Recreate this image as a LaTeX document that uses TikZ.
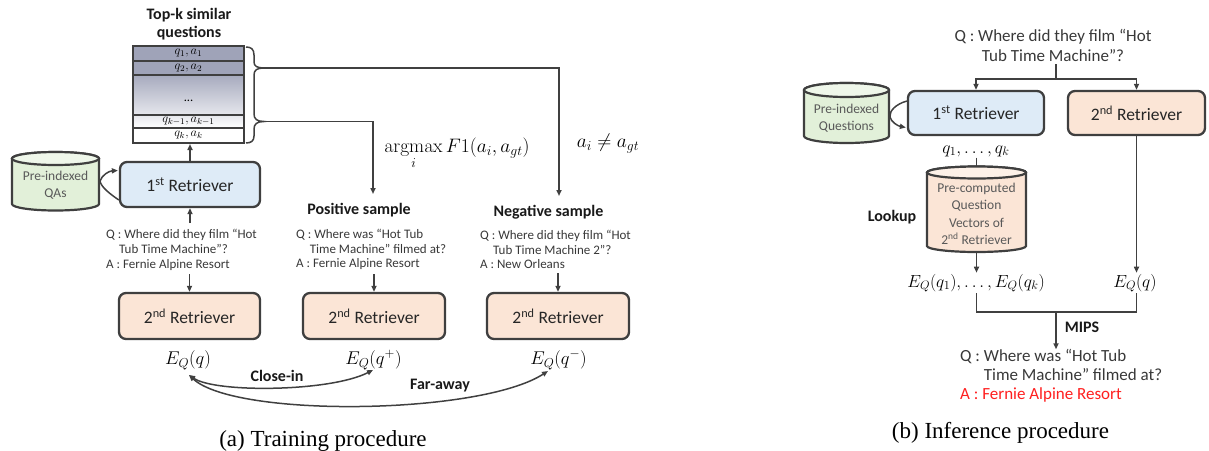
\RequirePackage{fix-cm}
\documentclass[tikz,border=0pt]{standalone}
\usepackage[no-math]{fontspec}
\setmainfont{Carlito}
\newfontfamily\capfont{Liberation Serif}
\usetikzlibrary{arrows.meta,calc}
\definecolor{bordc}{HTML}{3F3F3F}
\definecolor{linec}{HTML}{404040}
\definecolor{bluef}{HTML}{DEEBF7}
\definecolor{peachf}{HTML}{FBE5D6}
\definecolor{greenf}{HTML}{E2F0D9}
\definecolor{cylt}{HTML}{595959}
\definecolor{qc}{HTML}{383838}
\definecolor{rowc}{HTML}{9FA3B8}
\definecolor{rowlt}{HTML}{E6E7ED}
\definecolor{ansred}{HTML}{FF1F1F}
\newcommand\drawcyl[6]{%
  \draw[cylst, fill=#6] ({#1-#4},#2) -- ({#1-#4},#3)
    arc[start angle=180,end angle=360,x radius=#4pt,y radius=#5pt]
    -- ({#1+#4},#2)
    arc[start angle=0,end angle=180,x radius=#4pt,y radius=#5pt] -- cycle;
  \draw[cylst, fill=#6!55!white] (#1,#2) ellipse[x radius=#4pt, y radius=#5pt];}
\begin{document}
\begin{tikzpicture}[x=1pt,y=-1pt,
  retr/.style={draw=bordc, line width=2.3pt, rounded corners=7pt, minimum width=139pt,
    minimum height=44pt, font=\fontsize{17.5}{20}\selectfont, text=black!85},
  cylst/.style={draw=bordc, line width=2.2pt},
  conn/.style={draw=linec, line width=1.5pt},
  arr/.style={conn, -{Triangle[length=6pt,width=5pt]}},
  darr/.style={conn, {Triangle[length=6pt,width=5pt]}-{Triangle[length=6pt,width=5pt]}},
  qtext/.style={font=\fontsize{13}{14.7}\selectfont, text=qc, align=left, inner sep=0pt, anchor=west},
  bold/.style={font=\bfseries\fontsize{16}{18}\selectfont, inner sep=1pt, text=black!90},
  mth/.style={font=\fontsize{18.5}{21}\selectfont, inner sep=1pt},
  mthb/.style={font=\fontsize{17.5}{20}\selectfont, inner sep=1pt},
  cyltext/.style={font=\fontsize{13.5}{17.3}\selectfont, text=cylt, align=center, inner sep=0pt},
  rowlab/.style={font=\fontsize{12.5}{14}\selectfont, inner sep=0pt}]
\useasboundingbox (0,0) rectangle (1209,450);

%% ---------------- (a) Training procedure ----------------
\node[bold, align=center] (title) at (189,24) {Top-k similar\\questions};

% stack of top-k questions
\fill[rowc] (133,46) rectangle (244,75);
\shade[top color=rowc!92!white, bottom color=rowlt] (133,75) rectangle (244,115);
\shade[top color=rowlt, bottom color=white] (133,115) rectangle (244,128);
\fill[white] (133,128) rectangle (244,143);
\foreach \yy in {61,75,115,128} \draw[bordc, line width=1.8pt] (133,\yy) -- (244,\yy);
\node[draw=bordc, line width=2pt, minimum width=111pt, minimum height=97pt, inner sep=0pt] (stack) at (188.5,94.5) {};
\node[rowlab] (r1) at (188.5,53.5) {$q_1,a_1$};
\node[rowlab] (r2) at (188.5,68) {$q_2,a_2$};
\node[rowlab] (rdots) at (188.5,101) {...};
\node[rowlab] (rk1) at (188.5,121.5) {$q_{k-1},a_{k-1}$};
\node[rowlab] (rk) at (188.5,135.5) {$q_k,a_k$};

% braces
\draw[conn] (246,47) .. controls (251,47) and (254,49) .. (254,55) -- (254,62)
  .. controls (254,66) and (257,68) .. (264,68) .. controls (257,68) and (254,70) .. (254,75)
  -- (254,114) .. controls (254,119) and (257,121.5) .. (264,121.5)
  .. controls (257,121.5) and (254,124) .. (254,129) -- (254,136)
  .. controls (254,141) and (251,143) .. (246,143);
\coordinate (b1) at (264,68);
\coordinate (b2) at (264,121.5);
\coordinate (negtop) at (559,196);
\coordinate (postop) at (373,194);
\draw[arr] (b1) -| (negtop);
\draw[arr] (b2) -| (postop);
\node[font=\fontsize{19.5}{22}\selectfont, inner sep=0pt] (argm) at (457,153)
  {$\displaystyle\mathop{\mathrm{argmax}}_{i}F1(a_i,a_{gt})$};
\node[font=\fontsize{19.5}{22}\selectfont, inner sep=1pt] (neq) at (608,144) {$a_i \neq a_{gt}$};

% pre-indexed QAs
\drawcyl{55.5}{158.5}{204}{43.5}{6.5}{greenf}
\node[cyltext] (cylA) at (55.5,185) {Pre-indexed\\QAs};

% 1st retriever
\node[retr, fill=bluef, minimum width=140pt, minimum height=45pt] (r1a) at (190,184.5) {1\textsuperscript{st} Retriever};
\draw[arr] ([yshift=-15.5pt]r1a.west) .. controls (110,194) and (101,187) .. (100,181)
  .. controls (102,175) and (109,171) .. ([yshift=14pt,xshift=-1pt]r1a.west);
\draw[arr] (r1a.north) -- (stack.south -| r1a.north);

% sample texts
\node[qtext] (qa1) at (106,249.8) {Q : Where did they film “Hot\\\hspace*{1em}Tub Time Machine”?\\A : Fernie Alpine Resort};
\node[bold] (pos) at (359,210) {Positive sample};
\node[qtext] (qpos) at (296,249.5) {Q : Where was “Hot Tub\\\hspace*{1.05em}Time Machine” filmed at?\\A : Fernie Alpine Resort};
\node[bold] (neg) at (548.5,212) {Negative sample};
\node[qtext] (qneg) at (480,249.5) {Q : Where did they film “Hot\\\hspace*{1em}Tub Time Machine 2”?\\A : New Orleans};

\draw[arr] (r1a.south |- qa1.north) +(0,-6) -- (r1a.south);

% 2nd retrievers
\node[retr, fill=peachf, minimum width=141pt, minimum height=46pt] (r2a) at (189.5,316) {2\textsuperscript{nd} Retriever};
\node[retr, fill=peachf, minimum width=142pt, minimum height=46pt] (r2p) at (374,316) {2\textsuperscript{nd} Retriever};
\node[retr, fill=peachf, minimum width=142pt, minimum height=46pt] (r2n) at (558,316) {2\textsuperscript{nd} Retriever};
\draw[arr] (r2a.north |- qa1.south) +(0,4) -- (r2a.north);
\draw[arr] (r2p.north |- qpos.south) +(0,4) -- (r2p.north);
\draw[arr] (r2n.north |- qneg.south) +(0,4) -- (r2n.north);

\node[mth] (eq) at (188,360) {$E_Q(q)$};
\node[mth] (eqp) at (373.5,360) {$E_Q(q^{+})$};
\node[mth] (eqn) at (558.5,360) {$E_Q(q^{-})$};
\coordinate (eqa) at (189,375);
\coordinate (eqpa) at (373,370);
\coordinate (eqna) at (548,371);
\draw[darr] (eqa) .. controls (215,393) and (330,392) .. (eqpa);
\draw[darr] (eqa) .. controls (235,418) and (480,415) .. (eqna);
\node[bold] (closein) at (277,376) {Close-in};
\node[bold] (faraway) at (440,386) {Far-away};

\node[font=\capfont\fontsize{23}{26}\selectfont, anchor=base, inner sep=0pt] (capa) at (323,446) {(a) Training procedure};

%% ---------------- (b) Inference procedure ----------------
\node[font=\fontsize{17}{20}\selectfont, align=center, text=qc, inner sep=0pt] (rq) at (1053,45) {Q : Where did they film “Hot\\Tub Time Machine”?};
\node[retr, fill=bluef, minimum width=136pt, minimum height=44pt] (r1b) at (976,113) {1\textsuperscript{st} Retriever};
\node[retr, fill=peachf, minimum width=137pt, minimum height=44pt] (r2b) at (1136.5,113) {2\textsuperscript{nd} Retriever};
\coordinate (split) at (1056,79);
\draw[conn] (split |- rq.south) +(0,3) -- (split);
\draw[arr] (split) -| (r1b.north);
\draw[arr] (split) -| (r2b.north);

\drawcyl{846.5}{90}{136}{42.5}{7}{greenf}
\node[cyltext] (cylB) at (846.5,118.5) {Pre-indexed\\Questions};
\draw[arr] ([yshift=12pt]r1b.west) .. controls (896,104) and (889,111) .. (890,117)
  .. controls (891,122) and (898,126) .. ([yshift=-14.5pt,xshift=-1pt]r1b.west);

\node[mthb] (qk) at (976,151) {$q_1,\ldots,q_k$};
\drawcyl{976.5}{172.5}{246}{49.5}{6}{peachf}
\node[cyltext] (cylC) at (976.5,214) {Pre-computed\\Question\\Vectors of\\2\textsuperscript{nd} Retriever};
\coordinate (cylCtop) at (976.5,166.5);
\coordinate (cylCbot) at (976.5,252);
\draw[conn] (qk.south -| cylCtop) -- (cylCtop);
\node[bold] (lookup) at (892,217) {Lookup};

\node[mthb] (eqk) at (976,283) {$E_Q(q_1),\ldots,E_Q(q_k)$};
\node[mthb] (eqr) at (1135,283) {$E_Q(q)$};
\draw[arr] (cylCbot) -- (cylCbot |- eqk.north);
\draw[arr] (r2b.south) -- (r2b.south |- eqr.north);
\coordinate (mips) at (1056,312);
\draw[conn] (cylCbot |- eqk.south) |- (mips) -| (r2b.south |- eqr.south);
\node[font=\fontsize{17}{19}\selectfont, align=left, inner sep=0pt, anchor=west, text=qc] (ans) at (960,376)
  {Q : Where was “Hot Tub\\\phantom{Q : }Time Machine” filmed at?\\\textcolor{ansred}{A : Fernie Alpine Resort}};
\draw[arr] (mips) -- (mips |- ans.north);
\node[bold] (mipsl) at (1082,327) {MIPS};

\node[font=\capfont\fontsize{23}{26}\selectfont, anchor=base, inner sep=0pt] (capb) at (1000.5,438) {(b) Inference procedure};
\end{tikzpicture}
\end{document}
